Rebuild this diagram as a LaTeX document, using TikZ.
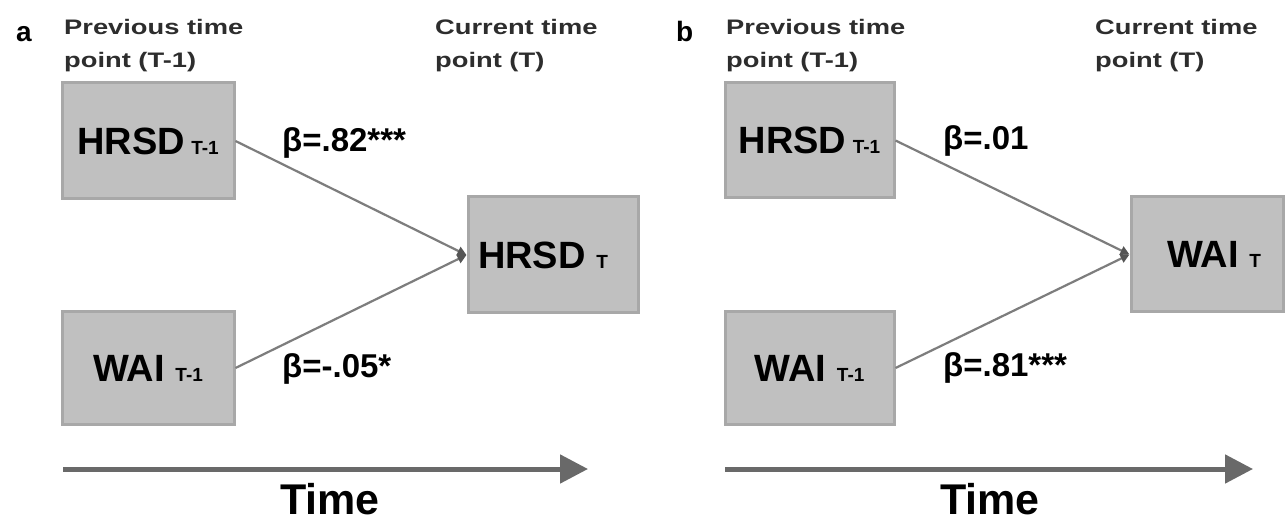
\documentclass[tikz,border=0pt]{standalone}
\usepackage{fontspec}
\setmainfont{Liberation Sans}
\newfontfamily\hdrfont[FakeStretch=1.3]{Liberation Sans}
\usetikzlibrary{arrows.meta}
\definecolor{boxfill}{RGB}{192,192,192}
\definecolor{boxline}{RGB}{168,168,168}
\definecolor{linkgray}{RGB}{125,125,125}
\definecolor{tipgray}{RGB}{85,85,85}
\definecolor{timegray}{RGB}{105,105,105}
\definecolor{hdrgray}{RGB}{45,45,45}
\newcommand\boxsub[1]{{\fontsize{19}{20}\selectfont #1}}
\tikzset{
  varbox/.style={draw=boxline, fill=boxfill, line width=3pt, inner sep=0pt,
    font=\fontsize{38}{40}\selectfont\bfseries},
  link/.style={draw=linkgray, line width=2.2pt,
    -{Triangle[length=9pt,width=9pt,color=tipgray,fill=tipgray]}},
  timearrow/.style={draw=timegray, line width=5pt,
    -{Triangle[length=28pt,width=28pt]}},
  hdr/.style={anchor=base west, inner sep=0pt, text=hdrgray,
    font=\hdrfont\fontsize{21}{25}\selectfont\bfseries},
  betalbl/.style={anchor=base west, inner sep=0pt,
    font=\fontsize{33}{35}\selectfont\bfseries},
  panellbl/.style={anchor=base west, inner sep=0pt,
    font=\fontsize{28}{30}\selectfont\bfseries},
  timelbl/.style={anchor=base, inner sep=0pt,
    font=\fontsize{43}{45}\selectfont\bfseries}
}
\begin{document}
\begin{tikzpicture}[x=1pt,y=-1pt]
\useasboundingbox[fill=white] (0,0) rectangle (1285,521);

% ---------- panel a ----------
\node[panellbl] (pa) at (16,42) {a};
\node[hdr] (ha1) at (64,35) {Previous time};
\node[hdr] (ha2) at (64,68) {point (T-1)};
\node[hdr] (ha3) at (435,35) {Current time};
\node[hdr] (ha4) at (435,68) {point (T)};

\node[varbox, minimum width=172pt, minimum height=116pt] (a1) at (148,141) {HRSD\,\boxsub{T-1}};
\node[varbox, minimum width=172pt, minimum height=112pt] (a2) at (148,368) {WAI \boxsub{T-1}};
\node[varbox, minimum width=170pt, minimum height=116pt] (a3) at (553,255) {HRSD \boxsub{T}\hspace*{20pt}};

\draw[link] (a1.east) -- (a3.west);
\draw[link] (a2.east) -- (a3.west);

\node[betalbl] (la1) at (282,152) {β=.82***};
\node[betalbl] (la2) at (282,377) {β=-.05*};

\coordinate (ta1) at (63,469);
\coordinate (ta2) at (588,469);
\draw[timearrow] (ta1) -- (ta2);
\node[timelbl] (tla) at (330,514) {Time};

% ---------- panel b ----------
\node[panellbl] (pb) at (676,42) {b};
\node[hdr] (hb1) at (726,35) {Previous time};
\node[hdr] (hb2) at (726,68) {point (T-1)};
\node[hdr] (hb3) at (1095,35) {Current time};
\node[hdr] (hb4) at (1095,68) {point (T)};

\node[varbox, minimum width=169pt, minimum height=115pt] (b1) at (809.5,140.5) {HRSD\,\boxsub{T-1}};
\node[varbox, minimum width=169pt, minimum height=112pt] (b2) at (809.5,368) {WAI \boxsub{T-1}};
\node[varbox, minimum width=152pt, minimum height=115pt] (b3) at (1207,254.5) {\hspace*{14pt}WAI \boxsub{T}};

\draw[link] (b1.east) -- (b3.west);
\draw[link] (b2.east) -- (b3.west);

\node[betalbl] (lb1) at (943,150) {β=.01};
\node[betalbl] (lb2) at (943,376) {β=.81***};

\coordinate (tb1) at (725,469);
\coordinate (tb2) at (1253,469);
\draw[timearrow] (tb1) -- (tb2);
\node[timelbl] (tlb) at (990,514) {Time};
\end{tikzpicture}
\end{document}
